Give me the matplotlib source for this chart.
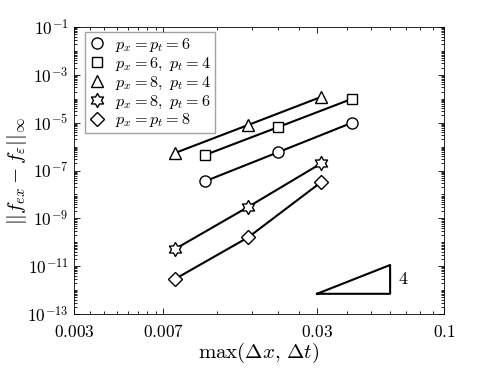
import numpy as np
import matplotlib
matplotlib.use("Agg")
import matplotlib.pyplot as plt
from matplotlib.path import Path

plt.rcParams['mathtext.fontset'] = 'cm'
plt.rcParams['font.family'] = 'serif'
plt.rcParams['font.serif'] = ['DejaVu Serif']

# grid sizes
h_a = [1 / 128, 1 / 64, 1 / 32]
h_b = [1 / 96, 1 / 48, 1 / 24]

# errors
err_66 = [3.6e-8, 5.9e-7, 9.8e-6]
err_64 = [4.5e-7, 6.6e-6, 9.8e-5]
err_84 = [5.4e-7, 8.0e-6, 1.2e-4]
err_86 = [5.2e-11, 3.0e-9, 2.0e-7]
err_88 = [2.9e-12, 1.6e-10, 3.3e-8]

labels = [r'$p_x = p_t = 6$', r'$p_x = 6,\ p_t = 4$', r'$p_x = 8,\ p_t = 4$',
          r'$p_x = 8,\ p_t = 6$', r'$p_x = p_t = 8$']

# slope triangle
tri_x = [0.03, 0.06]
tri_y0 = 7e-13
order = 4

# hexagram marker (outline of a 6 point star)
ang = np.pi / 2 + np.arange(12) * np.pi / 6
rad = np.where(np.arange(12) % 2 == 0, 1.0, 1 / np.sqrt(3))
verts = np.column_stack([rad * np.cos(ang), rad * np.sin(ang)])
verts = np.vstack([verts, verts[0]])
hexagram = Path(verts, [Path.MOVETO] + [Path.LINETO] * 11 + [Path.CLOSEPOLY])

fig = plt.figure(figsize=(4.91, 3.68), dpi=100)
ax = fig.add_axes([0.1507, 0.1467, 0.7536, 0.7799])

kw = dict(color='k', lw=1.5, mfc='white', mec='k', mew=1.0)
ax.plot(h_b, err_66, marker='o', ms=8, label=labels[0], **kw)
ax.plot(h_b, err_64, marker='s', ms=7.5, label=labels[1], **kw)
ax.plot(h_a, err_84, marker='^', ms=9, label=labels[2], **kw)
ax.plot(h_a, err_86, marker=hexagram, ms=10, label=labels[3], **kw)
ax.plot(h_a, err_88, marker='D', ms=7, label=labels[4], **kw)

# order-of-accuracy triangle
ty1 = tri_y0 * (tri_x[1] / tri_x[0]) ** order
ax.plot([tri_x[0], tri_x[1], tri_x[1], tri_x[0]], [tri_y0, tri_y0, ty1, tri_y0],
        color='k', lw=1.5)
ax.text(tri_x[1] * 1.08, np.sqrt(tri_y0 * ty1), r'$4$', fontsize=13,
        va='center', ha='left')

ax.set_xscale('log')
ax.set_yscale('log')
ax.set_xlim(0.003, 0.1)
ax.set_ylim(1e-13, 1e-1)

xt = [0.003, 0.007, 0.03, 0.1]
ax.set_xticks(xt)
ax.set_xticklabels([r'$0.003$', r'$0.007$', r'$0.03$', r'$0.1$'])
xminor = list(np.arange(0.0035, 0.0069, 0.0005)) + \
    list(np.linspace(0.007, 0.03, 6)[1:-1]) + list(np.arange(0.04, 0.095, 0.01))
ax.set_xticks(xminor, minor=True)
ax.xaxis.set_minor_formatter(plt.NullFormatter())

ymaj = [10.0 ** e for e in range(-13, 0, 2)]
ax.set_yticks(ymaj)
ax.set_yticklabels([r'$10^{%d}$' % e for e in range(-13, 0, 2)])
ymin = [s * 10.0 ** e for e in range(-13, -1) for s in range(1, 10)]
ax.set_yticks(ymin, minor=True)
ax.yaxis.set_minor_formatter(plt.NullFormatter())

ax.tick_params(which='both', direction='in', top=True, right=True,
               labelsize=12.5, width=0.6, pad=4)
ax.tick_params(axis='x', which='major', pad=7)
ax.tick_params(which='major', length=4)
ax.tick_params(which='minor', length=2.5)
for s in ax.spines.values():
    s.set_linewidth(0.6)

ax.set_xlabel(r'$\max(\Delta x,\,\Delta t)$', fontsize=15, labelpad=0)
ax.set_ylabel(r'$||f_{ex} - f_{\varepsilon}||_{\infty}$', fontsize=15)
ax.yaxis.set_label_coords(-0.122, 0.5)

leg = ax.legend(loc='upper left', bbox_to_anchor=(0.03, 0.983), fontsize=11.7,
                frameon=True, fancybox=False, edgecolor='#8c8c8c',
                handlelength=1.0, handletextpad=0.6, labelspacing=0.05,
                borderaxespad=0, borderpad=0.25)
leg.get_frame().set_linewidth(1.0)
for line in leg.get_lines():
    line.set_linestyle('none')

fig.savefig('out.png', dpi=100)
